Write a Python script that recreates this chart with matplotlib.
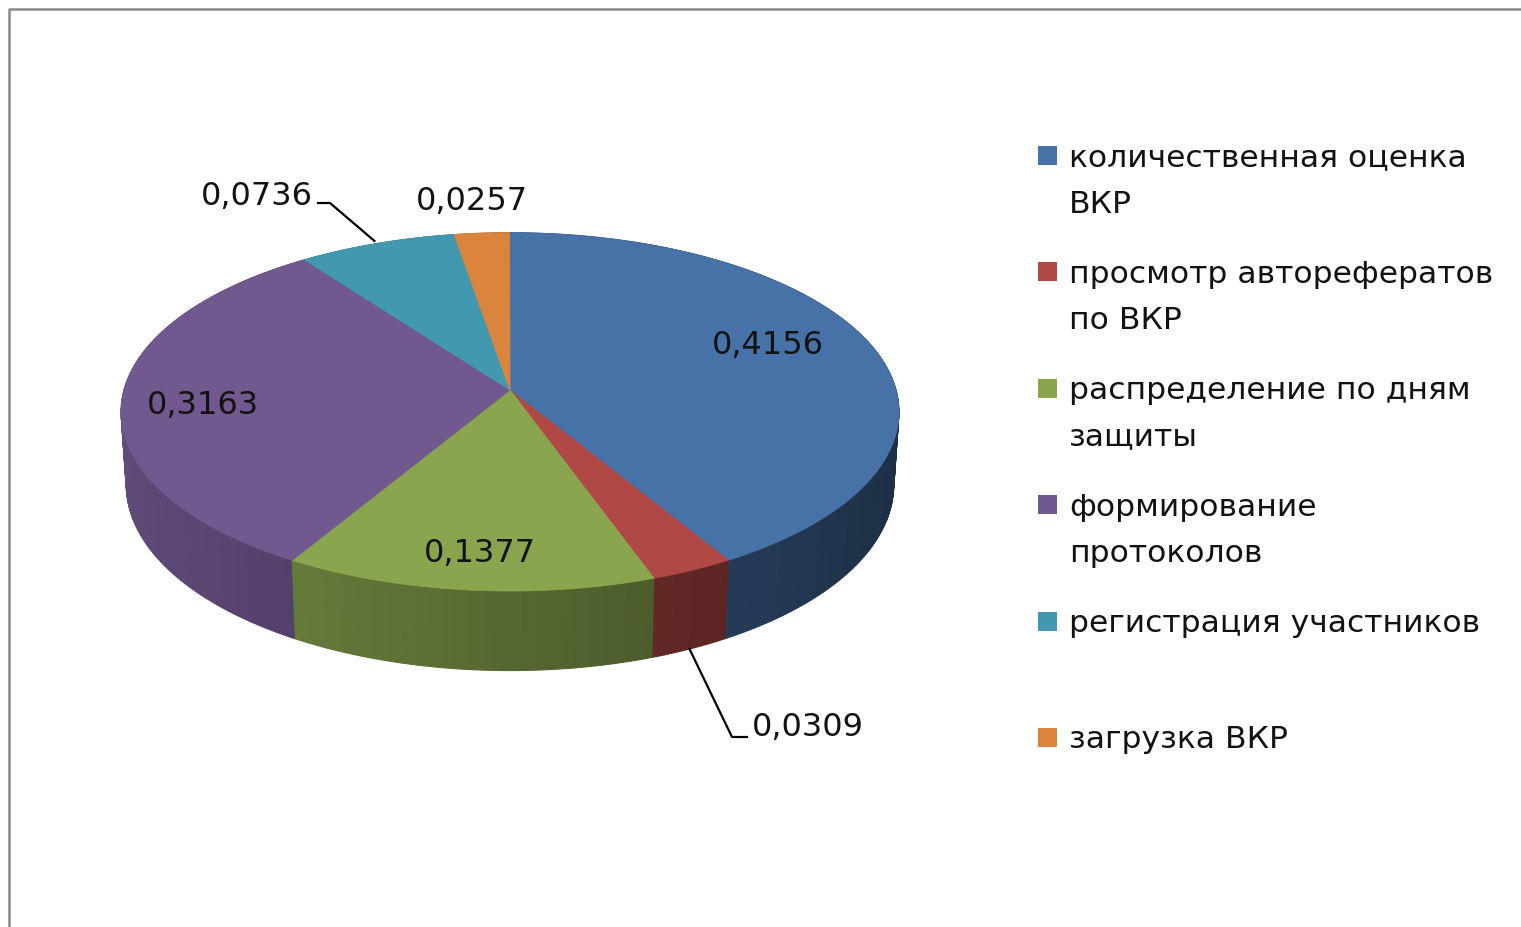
import numpy as np
import matplotlib
matplotlib.use("Agg")
import matplotlib.pyplot as plt
from matplotlib.patches import Polygon, Rectangle
from matplotlib.colors import to_rgb

# ---------------- data ----------------
categories = [
    "количественная оценка\nВКР",
    "просмотр авторефератов\nпо ВКР",
    "распределение по дням\nзащиты",
    "формирование\nпротоколов",
    "регистрация участников",
    "загрузка ВКР",
]
values = [0.4156, 0.0309, 0.1377, 0.3163, 0.0736, 0.0257]
value_labels = ["0,4156", "0,0309", "0,1377", "0,3163", "0,0736", "0,0257"]

# ---------------- style ----------------
colors = ["#4672A8", "#B04845", "#89A54E", "#71588F", "#4198AF", "#DB843D"]
text_color = "#121212"

W, H = 1521, 927
fig = plt.figure(figsize=(W / 100, H / 100), dpi=100)
ax = fig.add_axes([0, 0, 1, 1])
ax.set_xlim(0, W)
ax.set_ylim(H, 0)
ax.axis("off")

# chart-area border (top and left visible)
ax.plot([8.5, 8.5, W], [H, 8.5, 8.5], color="#8a8a8a", lw=1.8, solid_capstyle="butt")

# ---------------- 3D perspective projection ----------------
CX, CY = 510, 390          # pie centre on screen
elev = np.deg2rad(27.2)
se, ce = np.sin(elev), np.cos(elev)
D = 8.19 * ce
F = 386 * D
THICK = 0.2145


def proj(t, r=1.0, y=0.0):
    x = r * np.cos(t)
    z = -r * np.sin(t)              # positive toward viewer
    ys = y * ce - z * se
    depth = D - z * ce - y * se
    return CX + F * x / depth, CY - F * ys / depth


vals = np.array(values)
bounds = np.deg2rad(90 - 360 * np.concatenate([[0], np.cumsum(vals)]))

# side walls (painter's algorithm, back to front)
segs = []
for i, col in enumerate(colors):
    a0, a1 = bounds[i], bounds[i + 1]
    n = max(2, int(abs(a0 - a1) / np.deg2rad(1.0)) + 1)
    ts = np.linspace(a0, a1, n + 1)
    base = np.array(to_rgb(col))
    for k in range(n):
        t1, t2 = ts[k], ts[k + 1]
        tm = 0.5 * (t1 + t2)
        fac = 0.63 - 0.22 * np.cos(tm)
        c = np.clip(base * fac, 0, 1)
        p1 = proj(t1); p2 = proj(t2)
        q2 = proj(t2, y=-THICK); q1 = proj(t1, y=-THICK)
        segs.append((-np.sin(tm), [p1, p2, q2, q1], c))
segs.sort(key=lambda s: s[0])
for _, pts, c in segs:
    ax.add_patch(Polygon(pts, closed=True, facecolor=c, edgecolor=c, lw=0.8))

# top faces
for i, col in enumerate(colors):
    ts = np.linspace(bounds[i], bounds[i + 1], 200)
    xs, ys = proj(ts)
    pts = [(CX, CY)] + list(zip(xs, ys))
    ax.add_patch(Polygon(pts, closed=True, facecolor=col, edgecolor=col, lw=0.6))

# ---------------- data labels ----------------
label_layout = [
    (768, 346, "center"),
    (752, 727, "left"),
    (480, 553, "center"),
    (203, 405, "center"),
    (313, 196, "right"),
    (472, 201, "center"),
]
fs = 23
for i, (lx, ly, ha) in enumerate(label_layout):
    ax.text(lx, ly, value_labels[i], fontsize=fs, color=text_color,
            ha=ha, va="center")

mids = 0.5 * (bounds[:-1] + bounds[1:])
# leader for slice 2 (red) from lower rim
sx, sy = proj(mids[1], y=-THICK)
ax.plot([sx, 732, 747], [sy, 737, 737], color="black", lw=1.6)
# leader for slice 5 (cyan) from top rim
sx, sy = proj(mids[4], r=1.02)
ax.plot([sx, 330, 318], [sy, 203, 203], color="black", lw=1.6)

# ---------------- legend ----------------
leg_x_box, leg_x_text = 1038, 1069
leg_y0, leg_step, line_step = 158, 116.4, 46
fs_leg = 22.6
for i, (lab, col) in enumerate(zip(categories, colors)):
    y = leg_y0 + i * leg_step
    ax.add_patch(Rectangle((leg_x_box, y - 12), 19, 19, facecolor=col, edgecolor="none"))
    for j, line in enumerate(lab.split("\n")):
        ax.text(leg_x_text, y + j * line_step, line, fontsize=fs_leg, color=text_color,
                ha="left", va="center")

fig.savefig("out.png", dpi=100, facecolor="white")
